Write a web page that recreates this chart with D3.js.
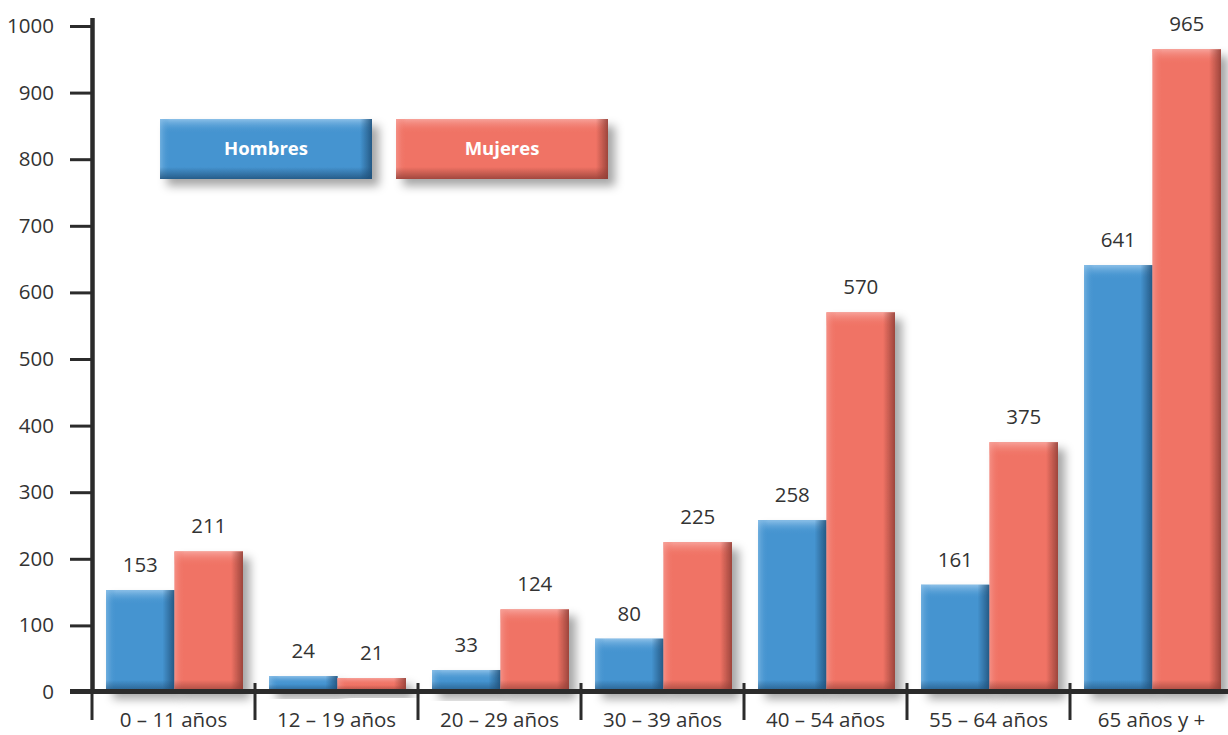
<!DOCTYPE html>
<html>
<head>
<meta charset="utf-8">
<script src="https://cdn.jsdelivr.net/npm/d3@7"></script>
<style>
  html, body { margin: 0; padding: 0; background: #fff; overflow: hidden; }
  text { font-family: "Open Sans", "Noto Sans", sans-serif; }
</style>
</head>
<body>
<div id="chart"></div>
<script>
// Data
const categories = ["0 – 11 años", "12 – 19 años", "20 – 29 años", "30 – 39 años", "40 – 54 años", "55 – 64 años", "65 años y +"];
const hombres = [153, 24, 33, 80, 258, 161, 641];
const mujeres = [211, 21, 124, 225, 570, 375, 965];
const seriesNames = ["Hombres", "Mujeres"];
const yTicks = [0, 100, 200, 300, 400, 500, 600, 700, 800, 900, 1000];

const width = 1228, height = 735;
const colors = { Hombres: "#4594d0", Mujeres: "#f07365" };
const dark = { Hombres: "#1f4f78", Mujeres: "#8e3d35" };
const light = { Hombres: "#8cc0e8", Mujeres: "#f7a29a" };
const fontSize = "20.5px";

const svg = d3.select("#chart").append("svg")
    .attr("width", width)
    .attr("height", height);

const defs = svg.append("defs");

// soft shadow behind bars
const shadow = defs.append("filter").attr("id", "shadow")
    .attr("x", "-20%").attr("y", "-20%").attr("width", "160%").attr("height", "160%");
shadow.append("feDropShadow")
    .attr("dx", 7).attr("dy", 7).attr("stdDeviation", 5)
    .attr("flood-color", "#000").attr("flood-opacity", 0.35);

// gradients for the bevelled edges
function grad(id, x2, y2, stops) {
    const g = defs.append("linearGradient").attr("id", id)
        .attr("x1", 0).attr("y1", 0).attr("x2", x2).attr("y2", y2);
    stops.forEach(s => g.append("stop").attr("offset", s[0]).attr("stop-color", s[1]).attr("stop-opacity", s[2]));
}
seriesNames.forEach(s => {
    grad("top-" + s, 0, 1, [[0, light[s], 1], [1, colors[s], 0]]);
    grad("left-" + s, 1, 0, [[0, light[s], 0.6], [1, colors[s], 0]]);
    grad("right-" + s, 1, 0, [[0, dark[s], 0], [1, dark[s], 0.85]]);
    grad("bottom-" + s, 0, 1, [[0, dark[s], 0], [1, dark[s], 0.8]]);
});

// Scales
const x = d3.scaleBand()
    .domain(categories)
    .range([92, 92 + 163 * categories.length]);

const x1 = d3.scaleBand()
    .domain(seriesNames)
    .range([14, 151]);

const y = d3.scaleLinear()
    .domain([0, 1000])
    .range([692, 26]);

const rows = categories.map((c, i) => ({ cat: c, Hombres: hombres[i], Mujeres: mujeres[i] }));

// Bars
function bevelRect(g, bx, by, bw, bh, s) {
    g.append("rect").attr("x", bx).attr("y", by).attr("width", bw).attr("height", bh)
        .attr("fill", colors[s]);
    const t = Math.min(14, bh / 2);
    g.append("rect").attr("x", bx).attr("y", by).attr("width", bw).attr("height", t)
        .attr("fill", `url(#top-${s})`);
    g.append("rect").attr("x", bx).attr("y", by).attr("width", 10).attr("height", bh)
        .attr("fill", `url(#left-${s})`);
    g.append("rect").attr("x", bx + bw - 12).attr("y", by).attr("width", 12).attr("height", bh)
        .attr("fill", `url(#right-${s})`);
    const b = Math.min(12, bh / 2);
    g.append("rect").attr("x", bx).attr("y", by + bh - b).attr("width", bw).attr("height", b)
        .attr("fill", `url(#bottom-${s})`);
}

const barLayer = svg.append("g");
rows.forEach(r => {
    seriesNames.forEach(s => {
        const g = barLayer.append("g").attr("filter", "url(#shadow)");
        const bx = x(r.cat) + x1(s);
        const by = y(r[s]);
        bevelRect(g, bx, by, x1.bandwidth(), y(0) - by, s);
    });
});

// Value labels
rows.forEach(r => {
    seriesNames.forEach(s => {
        svg.append("text")
            .attr("x", x(r.cat) + x1(s) + x1.bandwidth() / 2)
            .attr("y", y(r[s]) - 18)
            .attr("text-anchor", "middle")
            .attr("fill", "#333")
            .style("font-size", fontSize)
            .text(r[s]);
    });
});

// Legend
const legend = [{ s: "Hombres", x: 160 }, { s: "Mujeres", x: 396 }];
legend.forEach(l => {
    const g = svg.append("g").attr("filter", "url(#shadow)");
    bevelRect(g, l.x, 119, 212, 60, l.s);
    svg.append("text")
        .attr("x", l.x + 106).attr("y", 155)
        .attr("text-anchor", "middle")
        .attr("fill", "#fff")
        .style("font-size", "18.5px")
        .style("font-weight", "bold")
        .text(l.s);
});

// Y axis
const yAxis = svg.append("g")
    .attr("transform", "translate(92,0)")
    .call(d3.axisLeft(y).tickValues(yTicks).tickFormat(d3.format("d")).tickSize(22).tickPadding(16));
yAxis.select(".domain").remove();
yAxis.selectAll(".tick line").attr("stroke", "#2b2b2b").attr("stroke-width", 3);
yAxis.selectAll(".tick text").attr("fill", "#333").style("font-size", fontSize)
    .style("font-family", "'Open Sans', 'Noto Sans', sans-serif");

svg.append("line")
    .attr("x1", 92.5).attr("x2", 92.5)
    .attr("y1", 18).attr("y2", 694)
    .attr("stroke", "#2b2b2b").attr("stroke-width", 4.5);

// X axis
svg.append("line")
    .attr("x1", 70).attr("x2", width)
    .attr("y1", 691.5).attr("y2", 691.5)
    .attr("stroke", "#2b2b2b").attr("stroke-width", 5);

svg.append("g").selectAll("line")
    .data(categories)
    .join("line")
    .attr("x1", d => x(d)).attr("x2", d => x(d))
    .attr("y1", d => d === categories[0] ? 692 : 683)
    .attr("y2", 720)
    .attr("stroke", "#2b2b2b").attr("stroke-width", 3);

const xAxis = svg.append("g")
    .attr("transform", "translate(0,692)")
    .call(d3.axisBottom(x).tickSize(0).tickPadding(20));
xAxis.select(".domain").remove();
xAxis.selectAll(".tick text").attr("fill", "#333").style("font-size", fontSize)
    .style("font-family", "'Open Sans', 'Noto Sans', sans-serif");
</script>
</body>
</html>
